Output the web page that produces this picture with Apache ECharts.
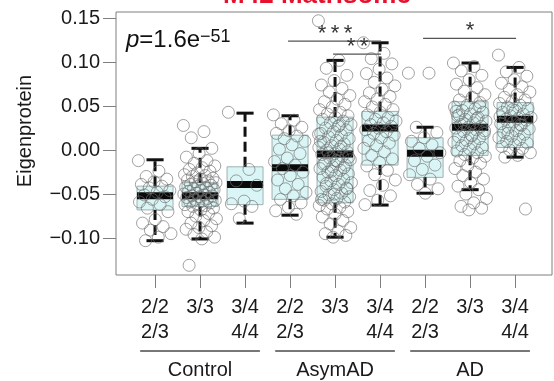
<!DOCTYPE html>
<html>
<head>
<meta charset="utf-8">
<script src="https://cdn.jsdelivr.net/npm/echarts@6/dist/echarts.min.js"></script>
<style>
  html, body { margin: 0; padding: 0; background: #ffffff; }
  #chart { width: 554px; height: 381px; }
</style>
</head>
<body>
<div id="chart"></div>
<script>
// Diagnosis groups and APOE genotype sub-groups along the x axis
const diagnosisGroups = ['Control', 'AsymAD', 'AD'];
const genotypeLabels = ['2/2\n2/3', '3/3', '3/4\n4/4'];
const yTickValues = [-0.10, -0.05, 0.00, 0.05, 0.10, 0.15];

// Module eigenprotein values per sample, one array per box
const ctl_22_23 = [-0.012, -0.024, -0.030, -0.033, -0.036, -0.039, -0.041, -0.043, -0.046, -0.048, -0.051, -0.053, -0.056, -0.059, -0.062, -0.066, -0.070, -0.079, -0.083, -0.087, -0.091, -0.095, -0.099, -0.103];
const ctl_33 = [0.028, 0.021, 0.014, 0.002, -0.004, -0.008, -0.012, -0.015, -0.018, -0.020, -0.022, -0.024, -0.026, -0.028, -0.029, -0.030, -0.032, -0.033, -0.034, -0.035, -0.036, -0.037, -0.038, -0.039, -0.040, -0.041, -0.042, -0.043, -0.044, -0.045, -0.046, -0.047, -0.048, -0.049, -0.050, -0.051, -0.052, -0.052, -0.053, -0.054, -0.055, -0.056, -0.057, -0.058, -0.059, -0.060, -0.061, -0.062, -0.063, -0.064, -0.066, -0.068, -0.070, -0.072, -0.075, -0.078, -0.080, -0.083, -0.086, -0.088, -0.090, -0.093, -0.096, -0.099, -0.101, -0.131];
const ctl_34_44 = [0.043, -0.022, -0.035, -0.040, -0.058, -0.061, -0.064, -0.078];
const asym_22_23 = [0.040, 0.034, 0.030, 0.026, 0.022, 0.019, 0.016, 0.013, 0.010, 0.006, 0.001, -0.004, -0.009, -0.013, -0.017, -0.021, -0.025, -0.029, -0.034, -0.039, -0.044, -0.048, -0.052, -0.056, -0.060, -0.065, -0.069, -0.073];
const asym_33 = [0.147, 0.102, 0.093, 0.085, 0.079, 0.074, 0.070, 0.066, 0.062, 0.058, 0.055, 0.052, 0.049, 0.046, 0.043, 0.041, 0.039, 0.037, 0.035, 0.033, 0.031, 0.029, 0.027, 0.025, 0.023, 0.021, 0.019, 0.017, 0.015, 0.013, 0.011, 0.009, 0.007, 0.005, 0.003, 0.001, 0.000, -0.002, -0.004, -0.005, -0.007, -0.009, -0.011, -0.013, -0.015, -0.017, -0.019, -0.021, -0.023, -0.025, -0.027, -0.029, -0.031, -0.033, -0.035, -0.037, -0.039, -0.041, -0.043, -0.045, -0.047, -0.049, -0.051, -0.053, -0.055, -0.057, -0.059, -0.061, -0.063, -0.065, -0.067, -0.070, -0.073, -0.076, -0.080, -0.084, -0.088, -0.092, -0.095, -0.097, -0.099, 0.010, 0.004, -0.003, -0.008, -0.012, -0.016, -0.020, -0.024, 0.018, 0.028, -0.038, -0.044, -0.050, -0.056];
const asym_34_44 = [0.122, 0.110, 0.104, 0.098, 0.092, 0.087, 0.082, 0.077, 0.073, 0.069, 0.065, 0.061, 0.058, 0.055, 0.052, 0.049, 0.046, 0.043, 0.040, 0.037, 0.035, 0.033, 0.031, 0.029, 0.027, 0.025, 0.023, 0.021, 0.019, 0.017, 0.014, 0.011, 0.008, 0.005, 0.002, -0.002, -0.006, -0.010, -0.014, -0.018, -0.023, -0.028, -0.034, -0.040, -0.046, -0.052, -0.057, -0.062];
const ad_22_23 = [0.0875, 0.0875, 0.026, 0.020, 0.014, 0.010, 0.006, 0.002, -0.003, -0.007, -0.012, -0.017, -0.022, -0.028, -0.033, -0.039, -0.044, -0.049];
const ad_33 = [0.099, 0.095, 0.090, 0.085, 0.080, 0.075, 0.071, 0.067, 0.063, 0.060, 0.057, 0.054, 0.051, 0.049, 0.047, 0.045, 0.043, 0.041, 0.039, 0.037, 0.035, 0.033, 0.031, 0.029, 0.027, 0.026, 0.025, 0.023, 0.021, 0.019, 0.017, 0.015, 0.013, 0.011, 0.009, 0.007, 0.005, 0.003, 0.001, -0.001, -0.003, -0.005, -0.007, -0.009, -0.012, -0.015, -0.018, -0.021, -0.025, -0.029, -0.033, -0.037, -0.041, -0.045, -0.050, -0.055, -0.060, -0.064, -0.066, -0.068, 0.044, 0.036, 0.030, 0.022, 0.016, 0.040, 0.050];
const ad_34_44 = [0.108, 0.094, 0.089, 0.084, 0.080, 0.076, 0.072, 0.069, 0.066, 0.063, 0.060, 0.057, 0.055, 0.053, 0.051, 0.049, 0.047, 0.045, 0.043, 0.041, 0.039, 0.037, 0.036, 0.035, 0.034, 0.032, 0.030, 0.028, 0.026, 0.024, 0.022, 0.020, 0.018, 0.016, 0.014, 0.012, 0.010, 0.008, 0.006, 0.004, 0.002, 0.000, -0.003, -0.006, -0.008, -0.067, 0.046, 0.038, 0.029, 0.019];

const samplesByBox = [ctl_22_23, ctl_33, ctl_34_44, asym_22_23, asym_33, asym_34_44, ad_22_23, ad_33, ad_34_44];

// Box summaries: [lower whisker, Q1, median, Q3, upper whisker]
const boxStats = [
  [-0.103, -0.068, -0.052, -0.041, -0.011],
  [-0.101, -0.064, -0.052, -0.037, 0.002],
  [-0.083, -0.062, -0.039, -0.019, 0.042],
  [-0.074, -0.056, -0.020, 0.017, 0.039],
  [-0.099, -0.060, -0.0045, 0.0375, 0.102],
  [-0.0625, -0.017, 0.025, 0.044, 0.122],
  [-0.049, -0.031, -0.0035, 0.014, 0.026],
  [-0.045, -0.006, 0.026, 0.055, 0.099],
  [-0.008, 0.003, 0.035, 0.054, 0.094]
];

// Pairwise comparisons: [from box, to box, bar height, stars]
const comparisons = [
  [3, 5, 0.124, '***'],
  [4, 5, 0.109, '**'],
  [6, 8, 0.127, '*']
];

const pValueMain = '=1.6e';
const pValueExp = '\u221251';
const moduleTitle = 'M42 Matrisome';

const FONT = '"Liberation Sans", Arial, Helvetica, sans-serif';

const chart = echarts.init(document.getElementById('chart'), null, { renderer: 'canvas' });

// Deterministic horizontal spread of points around each box centre
function spread(j) {
  const f = (j * 0.6180339887) % 1;
  return (f - 0.5) * 0.74;
}

const pointData = [];
samplesByBox.forEach(function (vals, i) {
  vals.forEach(function (v, j) { pointData.push([i + spread(j), v]); });
});

const boxData = boxStats.map(function (s, i) { return [i].concat(s); });

function fmtTick(v) {
  const s = Math.abs(v).toFixed(2);
  return v < -1e-9 ? '\u2212' + s : s;
}

function renderBox(params, api) {
  const x = api.value(0);
  const low = api.coord([x, api.value(1)]);
  const q1 = api.coord([x, api.value(2)]);
  const med = api.coord([x, api.value(3)]);
  const q3 = api.coord([x, api.value(4)]);
  const high = api.coord([x, api.value(5)]);
  const boxW = api.size([0.8, 0])[0];
  const capW = api.size([0.38, 0])[0];
  const cx = q1[0];
  const whisker = { stroke: '#111', lineWidth: 3, lineDash: [10, 5] };
  const cap = { stroke: '#111', lineWidth: 3 };
  return {
    type: 'group',
    children: [
      { type: 'rect', shape: { x: cx - boxW / 2, y: q3[1], width: boxW, height: q1[1] - q3[1] },
        style: { fill: '#daf5f5', stroke: '#a2b0b0', lineWidth: 1 }, z2: 1 },
      { type: 'line', shape: { x1: cx, y1: q3[1], x2: cx, y2: high[1] }, style: whisker, z2: 2 },
      { type: 'line', shape: { x1: cx, y1: q1[1], x2: cx, y2: low[1] }, style: whisker, z2: 2 },
      { type: 'line', shape: { x1: cx - capW / 2, y1: high[1], x2: cx + capW / 2, y2: high[1] }, style: cap, z2: 2 },
      { type: 'line', shape: { x1: cx - capW / 2, y1: low[1], x2: cx + capW / 2, y2: low[1] }, style: cap, z2: 2 },
      { type: 'rect', shape: { x: cx - boxW / 2, y: med[1] - 3.5, width: boxW, height: 7 },
        style: { fill: '#0a0a0a' }, z2: 3 }
    ]
  };
}

function renderComparison(params, api) {
  const a = api.coord([api.value(0), api.value(2)]);
  const b = api.coord([api.value(1), api.value(2)]);
  const label = comparisons[params.dataIndex][3].split('').join('\u2009');
  return {
    type: 'group',
    children: [
      { type: 'line', shape: { x1: a[0] - 2, y1: a[1], x2: b[0] + 1, y2: b[1] },
        style: { stroke: '#555', lineWidth: 1.2 } },
      { type: 'text', x: (a[0] + b[0]) / 2, y: a[1] + 4,
        style: { text: label, font: '22px ' + FONT, fill: '#333', align: 'center', verticalAlign: 'bottom' } }
    ]
  };
}

const option = {
  animation: false,
  backgroundColor: '#ffffff',
  grid: {
    left: 116, top: 12, right: 2, bottom: 106,
    show: true, borderColor: '#7f7f7f', borderWidth: 1, backgroundColor: 'transparent'
  },
  xAxis: {
    type: 'value', min: -0.867, max: 8.82, position: 'bottom',
    axisLine: { show: false, onZero: false },
    splitLine: { show: false },
    axisTick: { show: true, length: 13, customValues: [0, 1, 2, 3, 4, 5, 6, 7, 8], lineStyle: { color: '#7f7f7f', width: 1 } },
    axisLabel: {
      show: true, customValues: [0, 1, 2, 3, 4, 5, 6, 7, 8], margin: 20,
      formatter: function (v) { return genotypeLabels[Math.round(v) % 3]; },
      color: '#1a1a1a', fontFamily: FONT, fontSize: 20, lineHeight: 25, align: 'center', verticalAlign: 'top'
    }
  },
  yAxis: {
    type: 'value', min: -0.142, max: 0.157, position: 'left',
    axisLine: { show: false, onZero: false },
    splitLine: { show: false },
    axisTick: { show: true, length: 13, customValues: yTickValues, lineStyle: { color: '#7f7f7f', width: 1 } },
    axisLabel: {
      show: true, customValues: yTickValues, margin: 16,
      formatter: fmtTick, color: '#1a1a1a', fontFamily: FONT, fontSize: 20
    }
  },
  series: [
    { type: 'custom', name: 'boxes', renderItem: renderBox, data: boxData, z: 2,
      encode: { x: 0, y: [1, 2, 3, 4, 5] } },
    { type: 'scatter', name: 'samples', data: pointData, symbol: 'circle', symbolSize: 12, z: 3,
      itemStyle: { color: 'rgba(255,255,255,0)', borderColor: 'rgba(110,110,110,0.8)', borderWidth: 1 } },
    { type: 'custom', name: 'comparisons', renderItem: renderComparison, z: 4,
      data: comparisons.map(function (c) { return [c[0], c[1], c[2]]; }),
      encode: { x: [0, 1], y: 2 } }
  ]
};

chart.setOption(option);

// Diagnosis brackets under the genotype labels, title, axis name and p-value
const graphics = [];
diagnosisGroups.forEach(function (name, g) {
  const left = chart.convertToPixel({ gridIndex: 0 }, [g * 3 - 0.33, 0])[0];
  const right = chart.convertToPixel({ gridIndex: 0 }, [g * 3 + 2.33, 0])[0];
  const mid = chart.convertToPixel({ gridIndex: 0 }, [g * 3 + 1, 0])[0];
  graphics.push({ type: 'line', shape: { x1: left, y1: 351, x2: right, y2: 351 },
    style: { stroke: '#777', lineWidth: 2 } });
  graphics.push({ type: 'text', x: mid, y: 370,
    style: { text: name, font: '20px ' + FONT, fill: '#1a1a1a', align: 'center', verticalAlign: 'middle' } });
});
graphics.push({ type: 'text', x: 317, y: -4,
  style: { text: moduleTitle, font: 'bold 26px ' + FONT, fill: '#e8112d', align: 'center', verticalAlign: 'middle' } });
graphics.push({ type: 'text', x: 25, y: 131, rotation: Math.PI / 2,
  style: { text: 'Eigenprotein', font: '20px ' + FONT, fill: '#1a1a1a', align: 'center', verticalAlign: 'middle' } });
graphics.push({ type: 'text', x: 126, y: 40,
  style: {
    text: '{p|p}{m|' + pValueMain + '}{e|' + pValueExp + '}',
    verticalAlign: 'middle',
    rich: {
      p: { font: 'italic 24px ' + FONT, fill: '#111', verticalAlign: 'bottom' },
      m: { font: '24px ' + FONT, fill: '#111', verticalAlign: 'bottom' },
      e: { font: '18px ' + FONT, fill: '#111', verticalAlign: 'top' }
    }
  } });
chart.setOption({ graphic: graphics });
</script>
</body>
</html>
